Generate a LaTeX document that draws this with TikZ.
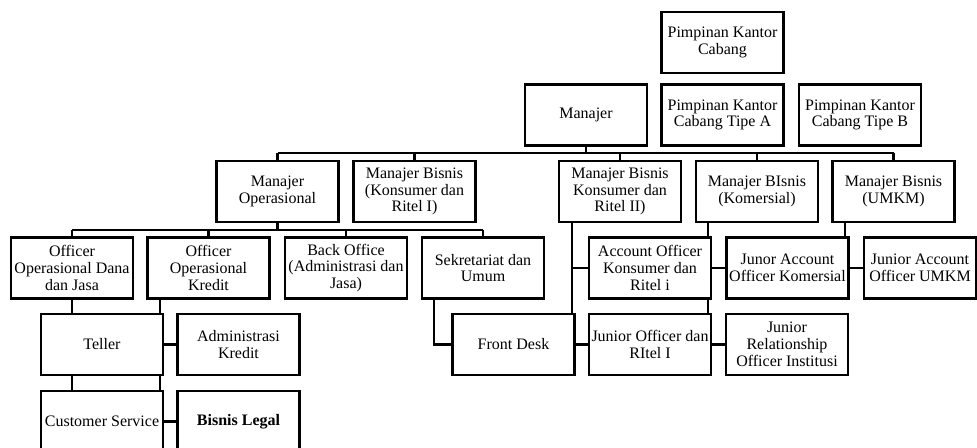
\documentclass[tikz,border=0pt]{standalone}
\usepackage{fontspec}
\setmainfont{Liberation Serif}
\usetikzlibrary{backgrounds}
\begin{document}
\begin{tikzpicture}[x=0.75pt,y=-0.75pt,
  box/.style={draw, line width=2pt, fill=white, minimum width=91.5pt, minimum height=45.75pt,
    inner sep=0pt, align=center, font=\fontsize{12}{12.6}\selectfont},
  conn/.style={line width=2pt}]
\path[use as bounding box] (0,0) rectangle (977,447);
% top
\node[box] (pkc) at (722.5,42.5) {Pimpinan Kantor\\Cabang};
\node[box] (man) at (586,115) {Manajer};
\node[box] (tipa) at (722.5,115) {Pimpinan Kantor\\Cabang Tipe A};
\node[box] (tipb) at (860,115) {Pimpinan Kantor\\Cabang Tipe B};
% level 2
\node[box] (mo) at (277.5,191.5) {Manajer\\Operasional};
\node[box] (mb1) at (414.5,191.5) {Manajer Bisnis\\(Konsumer dan\\Ritel I)};
\node[box] (mbkr) at (620,191.5) {Manajer Bisnis\\Konsumer dan\\Ritel II)};
\node[box] (mbk) at (757,191.5) {Manajer BIsnis\\(Komersial)};
\node[box] (mbu) at (893.5,191.5) {Manajer Bisnis\\(UMKM)};
% level 3
\node[box] (oodj) at (72,268) {Officer\\Operasional Dana\\dan Jasa};
\node[box] (ook) at (208.5,268) {Officer\\Operasional\\Kredit};
\node[box] (bo) at (346,268) {Back Office\\(Administrasi dan\\Jasa)};
\node[box] (su) at (483,268) {Sekretariat dan\\Umum};
\node[box] (aokr) at (650,268) {Account Officer\\Konsumer dan\\Ritel i};
\node[box] (jaok) at (787.5,268) {Junor Account\\Officer Komersial};
\node[box, minimum width=84pt] (jaou) at (920,268) {Junior Account\\Officer UMKM};
% level 4
\node[box] (tel) at (102,344.5) {Teller};
\node[box] (ak) at (238.5,344.5) {Administrasi\\Kredit};
\node[box] (fd) at (513.5,344.5) {Front Desk};
\node[box] (jori) at (650,344.5) {Junior Officer dan\\RItel I};
\node[box] (jroi) at (787,344.5) {Junior\\Relationship\\Officer Institusi};
% level 5
\node[box] (cs) at (102,421.5) {Customer Service};
\node[box, font=\fontsize{12}{12.6}\selectfont\bfseries] (bl) at (238.5,421.5) {Bisnis Legal};

\coordinate (busA) at (0,153);
\coordinate (busB) at (0,230);
\coordinate (xook) at (160,0);
\coordinate (xsu) at (434,0);
\coordinate (xmbkr) at (572,0);
\coordinate (xmbk) at (708,0);
\coordinate (xmbu) at (845,0);

\begin{scope}[on background layer]
  \draw[conn] (man.south) -- (man.south |- busA);
  \draw[conn] (mo.north |- busA) -- (mbu.north |- busA);
  \foreach \n in {mo,mb1,mbkr,mbk,mbu}
    \draw[conn] (\n.north) -- (\n.north |- busA);
  \draw[conn] (mo.south) -- (mo.south |- busB);
  \draw[conn] (oodj.north |- busB) -- (su.north |- busB);
  \foreach \n in {oodj,ook,bo,su}
    \draw[conn] (\n.north) -- (\n.north |- busB);
  % OODJ
  \draw[conn] (oodj.south) -- (oodj.south |- cs.west) -- (cs.west);
  \draw[conn] (oodj.south |- tel.west) -- (tel.west);
  % OOK
  \draw[conn] (xook |- ook.south) -- (xook |- bl.west) -- (bl.west);
  \draw[conn] (xook |- ak.west) -- (ak.west);
  % SU
  \draw[conn] (xsu |- su.south) -- (xsu |- fd.west) -- (fd.west);
  % MBKR2
  \draw[conn] (xmbkr |- mbkr.south) -- (xmbkr |- jori.west) -- (jori.west);
  \draw[conn] (xmbkr |- aokr.west) -- (aokr.west);
  % MBK
  \draw[conn] (xmbk |- mbk.south) -- (xmbk |- jroi.west) -- (jroi.west);
  \draw[conn] (xmbk |- jaok.west) -- (jaok.west);
  % MBU
  \draw[conn] (xmbu |- mbu.south) -- (xmbu |- jaou.west) -- (jaou.west);
\end{scope}
\end{tikzpicture}
\end{document}
